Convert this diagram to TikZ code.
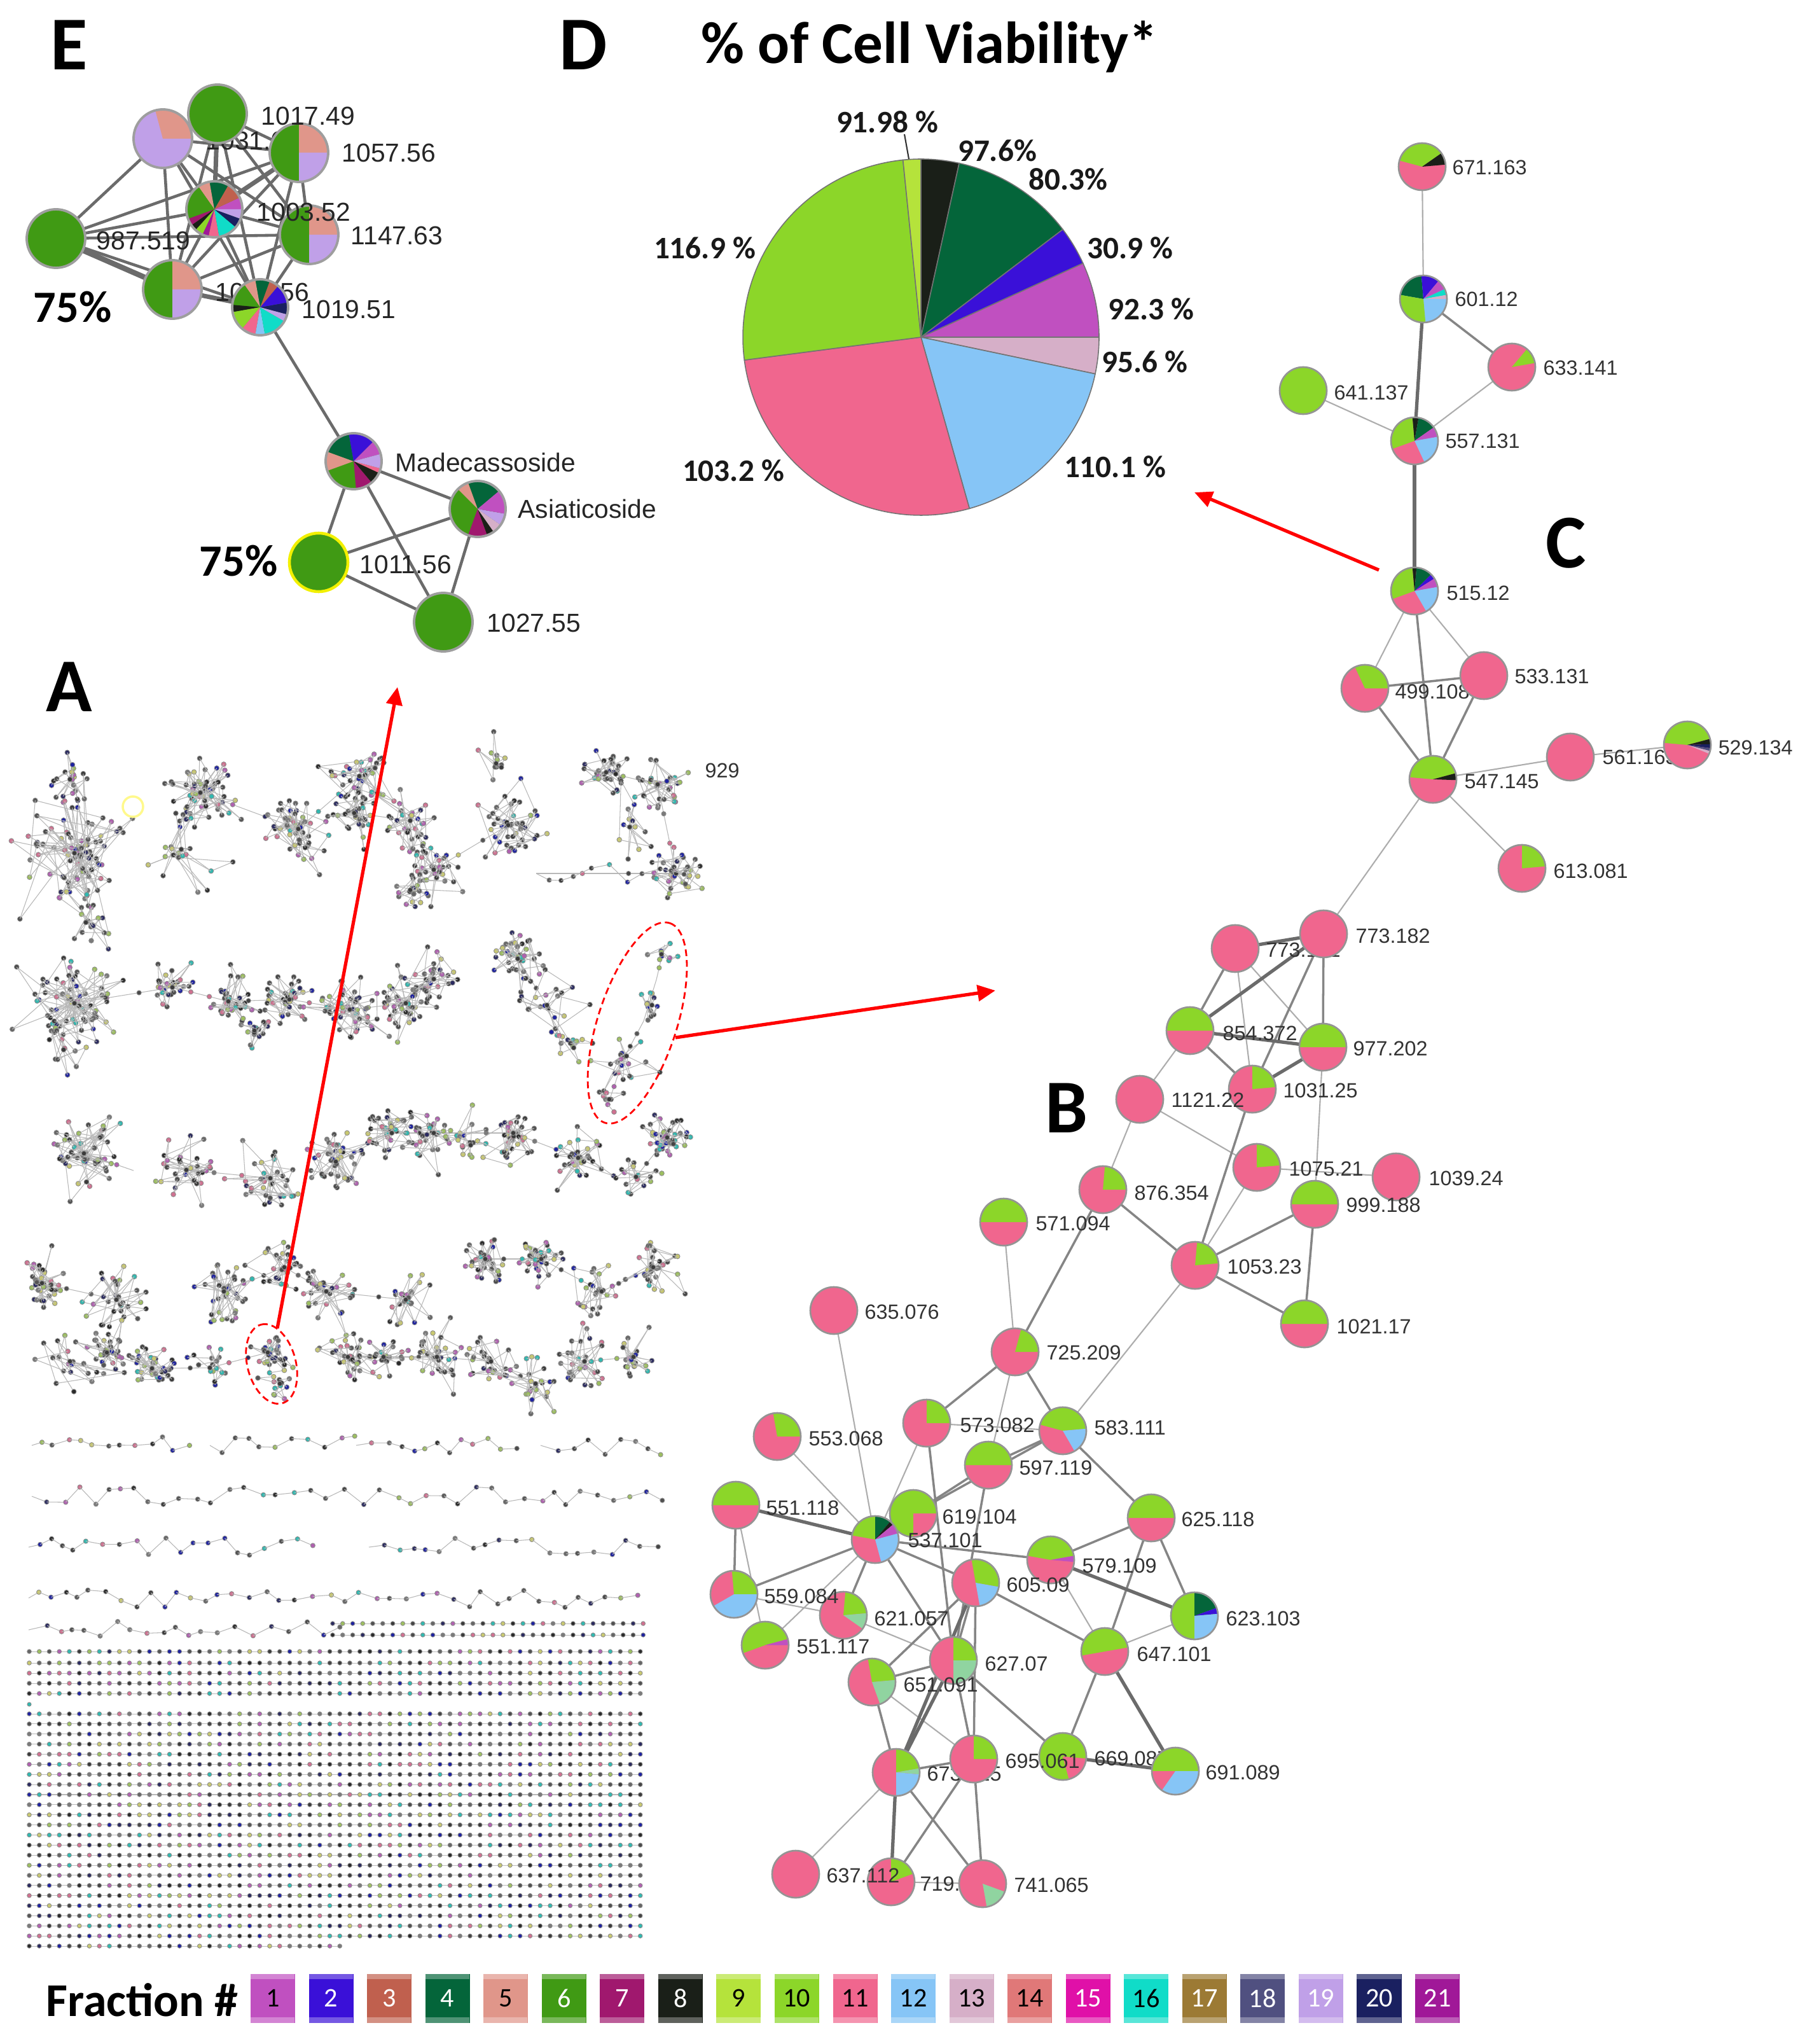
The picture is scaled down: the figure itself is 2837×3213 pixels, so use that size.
\documentclass[tikz,border=0pt]{standalone}
\usepackage{fontspec}
\setmainfont{Carlito}
\newfontfamily\labf{Liberation Sans}
\usetikzlibrary{arrows.meta,calc}
\pgfdeclarelayer{bgl}
\pgfdeclarelayer{edges}
\pgfdeclarelayer{hid}
\pgfsetlayers{bgl,edges,hid,main}
\definecolor{f1}{HTML}{C050C0}
\definecolor{f2}{HTML}{3A10D8}
\definecolor{f3}{HTML}{C0604E}
\definecolor{f4}{HTML}{04653A}
\definecolor{f5}{HTML}{E0968A}
\definecolor{f6}{HTML}{409A14}
\definecolor{f7}{HTML}{A0186E}
\definecolor{f8}{HTML}{1A1F18}
\definecolor{f9}{HTML}{B5E33B}
\definecolor{f10}{HTML}{8CD629}
\definecolor{f11}{HTML}{F0668E}
\definecolor{f12}{HTML}{86C5F6}
\definecolor{f13}{HTML}{D6AFC8}
\definecolor{f14}{HTML}{E07878}
\definecolor{f15}{HTML}{E010A8}
\definecolor{f16}{HTML}{10DCC8}
\definecolor{f17}{HTML}{9C7A34}
\definecolor{f18}{HTML}{505080}
\definecolor{f19}{HTML}{C0A0E8}
\definecolor{f20}{HTML}{1A2060}
\definecolor{f21}{HTML}{A01898}
\definecolor{mint}{HTML}{90D4A0}
\definecolor{eyel}{HTML}{F2F000}
\definecolor{Ac1}{HTML}{3A3A3A}
\definecolor{Ac2}{HTML}{4A4A4A}
\definecolor{Ac3}{HTML}{2A2A2A}
\definecolor{Ac4}{HTML}{555555}
\definecolor{Ac5}{HTML}{666666}
\definecolor{Ac6}{HTML}{2A2A60}
\definecolor{Ac7}{HTML}{1E22A0}
\definecolor{Ac8}{HTML}{B060B0}
\definecolor{Ac9}{HTML}{9DBF60}
\definecolor{Ac10}{HTML}{D07090}
\definecolor{Ac11}{HTML}{30B8B0}
\definecolor{Ac12}{HTML}{444444}
\definecolor{Ac13}{HTML}{505050}
\definecolor{Ac14}{HTML}{7A7A7A}
\definecolor{Ac15}{HTML}{C8C870}

\tikzset{
  nb/.style={draw=black!42, line width=0.75pt},
  lbl/.style={font=\labf\fontsize{9.2}{10}\selectfont, text=black!80, inner sep=0pt, anchor=west},
  lblE/.style={font=\labf\fontsize{11.6}{13}\selectfont, text=black!85, inner sep=0pt, anchor=west},
  panel/.style={font=\bfseries\fontsize{34}{38}\selectfont, inner sep=0pt, anchor=base},
  pct/.style={font=\bfseries\fontsize{14}{16}\selectfont, inner sep=0pt, text=black!90},
  big/.style={font=\bfseries\fontsize{20}{22}\selectfont, inner sep=0pt},
  et/.style={draw=black!32, line width=0.6pt},
  em/.style={draw=black!48, line width=1.0pt},
  ek/.style={draw=black!58, line width=1.5pt},
  eE/.style={draw=black!58, line width=1.3pt},
  aed/.style={draw=black!28, line width=0.3pt},
  adot/.style={draw=black!45, line width=0.25pt},
  redarrow/.style={draw=red, line width=1.5pt, -{Triangle[length=0.28cm,width=0.25cm]}},
  redell/.style={draw=red, line width=0.8pt, dash pattern=on 3pt off 1.8pt},
  legbox/.style={rectangle, minimum width=0.70cm, minimum height=0.77cm, inner sep=0pt, font=\fontsize{12}{12}\selectfont}
}

% pie-chart node: name, x, y, radius(px), base colour, slices (visual angles)
\newcommand\PN[6]{%
  \node[circle, inner sep=0pt, minimum size={0.02cm*#4}, fill=#5] (#1) at (#2,#3) {};
  \foreach \sa/\ea/\cl in {#6}{%
    \pgfmathsetmacro\psa{-(\sa)}\pgfmathsetmacro\pea{-(\ea)}%
    \fill[\cl] (#1.center) -- ++(\psa:#4) arc[start angle=\psa, end angle=\pea, radius=#4] -- cycle;}%
  \draw[nb] (#1.center) circle[radius=#4];}
% solid node
\newcommand\PS[5]{%
  \node[circle, inner sep=0pt, minimum size={0.02cm*#4}, fill=#5] (#1) at (#2,#3) {};
  \draw[nb] (#1.center) circle[radius=#4];}

% panel A helpers
\newcommand\Acl[4]{%
  \xdef\apx{#1}\xdef\apy{#2}%
  \pgfmathtruncatemacro\nn{#3*2}%
  \foreach \i in {1,...,\nn}{%
    \pgfmathsetmacro\ang{360*rnd}%
    \pgfmathsetmacro\rad{1.4*#4*(0.06+0.94*rnd)*(1+0.6*(rnd>0.88))}%
    \pgfmathsetmacro\qx{#1+\rad*cos(\ang)}%
    \pgfmathsetmacro\qy{#2+\rad*sin(\ang)}%
    \pgfmathrandominteger{\kk}{1}{15}%
    \pgfmathtruncatemacro\mm{mod(\i,3)}%
    \ifnum\mm=0 \draw[aed] (\apx,\apy) -- (\qx,\qy) -- (#1,#2);
    \else \draw[aed] (\apx,\apy) -- (\qx,\qy);\fi
    \filldraw[adot, fill=Ac\kk] (\qx,\qy) circle[radius=3.8];
    \xdef\apx{\qx}\xdef\apy{\qy}%
  }%
  \filldraw[adot, fill=Ac1] (#1,#2) circle[radius=3.8];}
\newcommand\Ach[4]{%
  \xdef\apx{#1}\xdef\apy{#2}%
  \foreach \i in {1,...,#3}{%
    \pgfmathsetmacro\qx{\apx+#4*(0.7+0.6*rnd)}%
    \pgfmathsetmacro\qy{#2+30*(rnd-0.5)}%
    \pgfmathrandominteger{\kk}{1}{15}%
    \draw[aed] (\apx,\apy) -- (\qx,\qy);
    \filldraw[adot, fill=Ac\kk] (\qx,\qy) circle[radius=3.6];
    \xdef\apx{\qx}\xdef\apy{\qy}}}
\newcommand\Alink[4]{% x1 y1 x2 y2 : chain of dots between two cluster centres
  \draw[aed] (#1,#2) -- (#3,#4);
  \foreach \t in {0.33,0.66}{%
    \pgfmathsetmacro\qx{#1+\t*(#3-#1)}\pgfmathsetmacro\qy{#2+\t*(#4-#2)}%
    \pgfmathrandominteger{\kk}{1}{15}%
    \filldraw[adot, fill=Ac\kk] (\qx,\qy) circle[radius=3.6];}}
\newcommand\Arow[3]{% y, x0, number of dots
  \draw[aed] (#2,#1) -- ++(15.75*#3,0);
  \foreach \c in {0,...,#3}{%
    \pgfmathsetmacro\xx{#2+15.75*\c}%
    \pgfmathrandominteger{\kk}{1}{15}%
    \filldraw[adot, fill=Ac\kk] (\xx,#1) circle[radius=3.3];}}

\begin{document}
\begin{tikzpicture}[x=0.01cm, y=-0.01cm]
\useasboundingbox (0,0) rectangle (2837,3213);
\begin{pgfonlayer}{bgl}
\fill[white] (0,0) rectangle (2837,3213);
\end{pgfonlayer}
\pgfmathsetseed{4242}

% ================= panel A =================
\foreach \xa/\ya/\xb/\yb in {117/1341/180/1300, 315/1246/469/1303, 469/1303/565/1220, 565/1220/557/1278, 557/1278/645/1290, 645/1290/682/1367, 682/1367/799/1297, 953/1214/1034/1233, 1034/1233/1063/1373, 843/1373/1063/1373,
  117/1577/271/1552, 271/1552/359/1574, 359/1574/455/1571, 455/1571/550/1587, 550/1587/638/1577, 638/1577/682/1539, 814/1507/902/1647,
  132/1813/210/1840, 293/1839/425/1852, 528/1826/616/1781, 616/1781/682/1781, 682/1781/807/1781, 807/1781/909/1820, 1049/1788/1000/1850,
  66/2017/183/2043, 352/2030/447/1992, 447/1992/513/2030, 513/2030/638/2043, 763/1979/851/1979, 851/1979/946/2030, 946/2030/1027/1992,
  168/2126/239/2151, 239/2151/330/2150, 330/2150/421/2126, 547/2133/603/2133, 603/2133/687/2133, 687/2133/772/2140, 772/2140/842/2175, 919/2140/996/2133,
  1045/1485/1032/1540, 1032/1540/1012/1605, 1012/1605/980/1665, 980/1665/958/1730}
  {\Alink{\xa}{\ya}{\xb}{\yb}}
\foreach \cxa/\cya/\cn/\cr in {117/1341/45/62, 110/1225/10/30, 135/1450/8/28, 315/1246/28/42, 285/1335/10/55, 469/1303/26/40, 565/1220/20/35, 557/1278/16/30, 645/1290/16/35, 682/1367/16/30, 645/1399/10/25, 799/1297/22/35, 780/1200/6/25, 953/1214/15/30, 1034/1233/15/30, 1063/1373/18/30, 990/1300/6/40,
  117/1577/36/50, 100/1650/6/30, 271/1552/15/25, 359/1574/18/30, 455/1571/18/30, 400/1620/8/25, 550/1587/26/35, 638/1577/22/30, 682/1539/15/25, 814/1507/20/30, 860/1580/10/40, 902/1647/6/25,
  132/1813/26/40, 293/1839/15/40, 425/1852/18/35, 528/1826/22/35, 616/1781/18/30, 682/1781/15/30, 740/1800/8/30, 807/1781/18/30, 909/1820/18/30, 1049/1788/22/30, 1000/1850/8/30,
  66/2017/20/30, 183/2043/15/35, 352/2030/18/35, 447/1992/15/30, 513/2030/15/35, 638/2043/12/35, 763/1979/18/25, 851/1979/18/25, 946/2030/12/30, 1027/1992/15/30,
  110/2140/10/40, 168/2126/18/25, 239/2151/18/30, 330/2150/8/30, 421/2126/15/25, 440/2175/6/20, 547/2133/15/30, 603/2133/12/25, 687/2133/15/30, 772/2140/12/30, 842/2175/12/35, 919/2140/15/30, 996/2133/12/25,
  1040/1500/4/22, 1025/1580/5/24, 985/1660/9/30, 958/1728/4/18}
  {\Acl{\cxa}{\cya}{\cn}{\cr}}
\Ach{843}{1373}{10}{22}
\Ach{50}{2272}{12}{22}
\Ach{330}{2272}{10}{22}
\Ach{560}{2272}{12}{22}
\Ach{850}{2272}{8}{22}
\Ach{50}{2352}{40}{24}
\Ach{45}{2432}{20}{23}
\Ach{580}{2432}{19}{23}
\Ach{45}{2512}{42}{23}
\Ach{45}{2562}{20}{23}
\Arow{2552}{523}{31}
\Arow{2570}{523}{31}
\foreach \yy in {2596,2614,2630,2646,2662} {\Arow{\yy}{46}{61}}
\foreach \k in {0,...,22} {\pgfmathsetmacro\yk{2694+15.87*\k}\Arow{\yk}{46}{61}}
\Arow{3059}{46}{31}
\filldraw[adot, fill=Ac11] (46,2679) circle[radius=3.1];
\draw[yellow!45, line width=1pt] (209,1268) circle[radius=16];
\node[lbl] (l929) at (1108,1211) {929};
\node[panel] (pA) at (109,1118) {A};

% ================= panel E =================
\tikzset{nb/.style={draw=black!38, line width=1.1pt}}
\PN{lav}{256}{218}{46}{f19}{0/105/f5}
\PS{n1017}{342}{179}{46}{f6}
\PN{n1057}{470}{240}{46}{f6}{0/90/f5, -90/0/f19}
\PS{n987}{88}{375}{46}{f6}
\PN{n1003}{337}{329}{44}{f6}{0/25/f1, 25/60/f3, 60/100/f4, 100/125/f5, 125/200/f6, 200/215/f7, 215/228/f8, 228/245/f10, 245/258/f21, 258/280/f11, 280/320/f16, 320/340/f20, 340/360/f19}
\PN{n1147}{486}{369}{46}{f6}{0/90/f5, -90/0/f19}
\PN{nX}{271}{455}{46}{f6}{0/90/f5, -90/0/f19}
\PN{n1019}{409}{483}{44}{f6}{-15/10/f20, 10/50/f2, 50/70/f3, 70/100/f4, 100/125/f5, 125/175/f6, 175/190/f8, 190/230/f10, 230/260/f11, 260/280/f12, 280/330/f16, 330/345/f19}
\PN{nMad}{556}{725}{44}{f6}{-25/-15/f11, -50/-25/f8, -85/-50/f7, 160/200/f5, 100/160/f4, 45/100/f2, 15/45/f1, -15/15/f19}
\PN{nAsi}{751}{800}{44}{f6}{40/110/f4, 110/135/f5, 250/290/f7, 290/305/f8, 305/325/f13, 325/350/f19, 350/400/f1}
\node[circle, inner sep=0pt, minimum size=0.92cm, fill=f6] (n1011) at (501,884) {};
\draw[eyel, line width=1.3pt] (n1011.center) circle[radius=46];
\PS{n1027}{697}{978}{46}{f6}
\begin{pgfonlayer}{edges}
\foreach \a/\b in {n987/lav, n987/n1003, n987/n1147, n987/n1019, n987/n1057, lav/n1003, lav/n1147, lav/nX, lav/n1019, lav/n1057, n1017/n1003, n1017/n1147, n1017/nX, n1017/n1019, n1017/n1057, n1057/n1003, n1057/nX, n1057/n1019, n1057/n1147, n1003/n1147, n1003/nX, n1003/n1019, n1147/nX, n1147/n1019, n1019/nMad, nMad/nAsi, nMad/n1011, nMad/n1027, nAsi/n1011, nAsi/n1027, n1011/n1027}
  {\draw[eE] (\a) -- (\b);}
\draw[eE, line width=2.4pt] (n987) -- (nX);
\draw[eE, line width=2pt] (nX) -- (n1019);
\draw[eE, line width=2pt] (n1017) -- (n1003);
\draw[eE, line width=2pt] (n1057) -- (n1003);
\end{pgfonlayer}
\begin{pgfonlayer}{hid}
\node[lblE] (llav) at (323,221) {1031.64};
\node[lblE] (lX) at (338,459) {1065.56};
\end{pgfonlayer}
\node[lblE] (l1017) at (410,182) {1017.49};
\node[lblE] (l1057) at (537,240) {1057.56};
\node[lblE] (l1003) at (403,333) {1003.52};
\node[lblE] (l1147) at (551,370) {1147.63};
\node[lblE] (l987) at (151,378) {987.519};
\node[lblE] (l1019) at (474,486) {1019.51};
\node[lblE] (lMad) at (621,727) {Madecassoside};
\node[lblE] (lAsi) at (814,800) {Asiaticoside};
\node[lblE] (l1011) at (565,887) {1011.56};
\node[lblE] (l1027) at (765,979) {1027.55};
\node[big] (p75a) at (114,483) {75\%};
\node[big] (p75b) at (375,882) {75\%};
\node[panel] (pE) at (109,110) {E};

% ================= panel D =================
\node[panel] (pD) at (917,110) {D};
\node[font=\bfseries\fontsize{26.5}{30}\selectfont, inner sep=0pt, anchor=base] (ttl) at (1462,100) {\% of Cell Viability*};
\node[circle, inner sep=0pt, minimum size=5.6cm] (pie) at (1448,530) {};
\foreach \sa/\ea/\cl in {77.6/90/f8, 37.2/77.6/f4, 24.5/37.2/f2, 0/24.5/f1, -11.9/0/f13, -74.2/-11.9/f12, 187.4/285.8/f11, 95.8/187.4/f10, 90/95.8/f9} {%
  \pgfmathsetmacro\psa{-(\sa)}\pgfmathsetmacro\pea{-(\ea)}%
  \filldraw[fill=\cl, draw=black!55, line width=0.45pt] (pie.center) -- ++(\psa:280) arc[start angle=\psa, end angle=\pea, radius=280] -- cycle;}
\coordinate (lead1) at (1422,211);
\coordinate (lead2) at (1429,250);
\draw[black!80, line width=0.6pt] (lead1) -- (lead2);
\node[pct] (q1) at (1395,192) {91.98 \%};
\node[pct] (q2) at (1568,237) {97.6\%};
\node[pct] (q3) at (1679,282) {80.3\%};
\node[pct] (q4) at (1777,390) {30.9 \%};
\node[pct] (q5) at (1810,486) {92.3 \%};
\node[pct] (q6) at (1800,569) {95.6 \%};
\node[pct] (q7) at (1753,734) {110.1 \%};
\node[pct] (q8) at (1153,740) {103.2 \%};
\node[pct] (q9) at (1108,390) {116.9 \%};

% ================= panels C and B =================
\tikzset{nb/.style={draw=black!42, line width=0.75pt}}
\PN{c671}{2236}{262}{37}{f11}{35/165/f10, 5/35/f8}
\PN{c601}{2238}{470}{37}{f12}{95/170/f4, 50/95/f2, 25/50/f1, 10/25/f16, 0/10/f13, 170/275/f10}
\PN{c633}{2377}{577}{37}{f11}{10/50/f10}
\PS{c641}{2049}{614}{37}{f10}
\PN{c557}{2224}{693}{37}{f11}{95/200/f10, 80/95/f8, 35/80/f4, 10/35/f1, -65/10/f12}
\PN{c515}{2224}{929}{37}{f11}{95/200/f10, 85/95/f8, 45/85/f4, 32/45/f2, 10/32/f1, -60/10/f12}
\PN{c499}{2146}{1082}{37}{f11}{0/115/f10}
\PS{c533}{2333}{1062}{37}{f11}
\PN{c547}{2253}{1225}{37}{f11}{15/175/f10, -2/15/f8}
\PS{c561}{2469}{1190}{37}{f11}
\PN{c529}{2653}{1171}{37}{f11}{15/175/f10, 2/15/f8, -8/2/f20, -15/-8/f18, -22/-15/f13}
\PN{c613}{2393}{1365}{37}{f11}{5/90/f10}

\PS{b773a}{2081}{1468}{37}{f11}
\PS{b773b}{1942}{1491}{37}{f11}
\PN{b854}{1871}{1620}{37}{f11}{0/180/f10}
\PN{b977}{2080}{1646}{37}{f11}{0/180/f10}
\PN{b1031}{1969}{1712}{37}{f11}{5/90/f10}
\PS{b1121}{1792}{1728}{37}{f11}
\PN{b1075}{1976}{1835}{37}{f11}{5/90/f10}
\PS{b1039}{2195}{1850}{37}{f11}
\PN{b999}{2067}{1893}{37}{f11}{0/180/f10}
\PN{b876}{1734}{1870}{37}{f11}{0/85/f10}
\PN{b571}{1578}{1921}{37}{f11}{0/180/f10}
\PN{b1053}{1879}{1989}{37}{f11}{5/85/f10}
\PN{b1021}{2051}{2081}{37}{f11}{0/180/f10}

\PS{b635}{1311}{2060}{37}{f11}
\PN{b725}{1596}{2125}{37}{f11}{0/75/f10}
\PN{b573}{1457}{2237}{37}{f11}{0/90/f10}
\PN{b583}{1671}{2249}{37}{f11}{5/165/f10, -60/5/f12}
\PN{b553}{1222}{2258}{37}{f11}{0/100/f10}
\PN{b597}{1554}{2303}{37}{f11}{0/180/f10}
\PN{b551a}{1157}{2366}{37}{f11}{0/180/f10}
\PN{b619}{1436}{2379}{37}{f10}{-90/0/f11}
\PN{b625}{1810}{2386}{37}{f11}{0/180/f10}
\PN{b537}{1376}{2420}{37}{f11}{90/170/f10, 50/90/f4, 40/50/f8, 15/40/f1, -75/15/f12}
\PN{b579}{1652}{2452}{37}{f11}{10/170/f10, -5/10/f1}
\PN{b605}{1534}{2488}{37}{f11}{-10/100/f10, -80/-10/f12}
\PN{b559}{1154}{2506}{37}{f11}{0/95/f10, -150/0/f12}
\PN{b623}{1878}{2540}{37}{f10}{20/90/f4, 5/20/f2, -90/5/f12}
\PN{b621}{1326}{2539}{37}{f11}{5/85/f10, -35/5/mint}
\PN{b551b}{1203}{2586}{37}{f11}{15/200/f10, 0/15/f1}
\PN{b647}{1737}{2596}{37}{f11}{10/190/f10}
\PN{b627}{1499}{2610}{37}{f11}{0/90/f10, -90/0/mint}
\PN{b651}{1371}{2644}{37}{f11}{5/100/f10, -70/5/mint}
\PN{b67x}{1409}{2786}{37}{f11}{10/90/f10, -5/10/mint, -90/-5/f12}
\PN{b695}{1531}{2765}{37}{f11}{0/90/f10}
\PN{b669}{1671}{2761}{37}{f10}{-75/-5/f11}
\PN{b691}{1848}{2784}{37}{f10}{180/235/f11, 235/360/f12}
\PS{b637}{1251}{2946}{37}{f11}
\PN{b719}{1401}{2958}{37}{f11}{20/90/f10}
\PN{b741}{1545}{2961}{37}{f11}{-80/-20/mint}

\begin{pgfonlayer}{edges}
\foreach \a/\b in {c671/c601, c633/c557, c641/c557, c515/c499, c515/c533, c547/c561, c561/c529, c547/c613, c547/b773a,
  b773b/b1031, b773b/b977, b854/b1121, b1121/b876, b1121/b1075, b977/b999, b1075/b1039, b1075/b1053, b571/b725, b1053/b583,
  b635/b537, b725/b597, b573/b583, b553/b537, b551a/b551b, b559/b621, b537/b551b, b579/b647, b623/b647, b621/b627, b651/b695, b67x/b637, b719/b741, b573/b537}
  {\draw[et] (\a) -- (\b);}
\foreach \a/\b in {c601/c633, c515/c547, c499/c533, c499/c547, c533/c547,
  b773a/b977, b773a/b1031, b773b/b854, b854/b1031, b1031/b1053, b999/b1053, b999/b1021, b1053/b1021, b876/b1053, b876/b725,
  b725/b573, b725/b583, b583/b597, b583/b619, b583/b625, b551a/b559, b537/b559, b537/b621, b537/b605, b537/b579, b537/b627, b597/b619, b597/b627, b605/b647, b605/b627, b605/b651, b605/b695, b625/b579, b625/b623, b625/b647, b647/b669, b627/b669, b627/b651, b627/b695, b651/b67x, b67x/b695, b67x/b741, b695/b719, b695/b741, b573/b627}
  {\draw[em] (\a) -- (\b);}
\foreach \a/\b in {c601/c557, c557/c515, b773a/b773b, b773a/b854, b854/b977, b977/b1031,
  b551a/b537, b579/b623, b647/b691, b669/b691, b627/b67x, b605/b67x, b67x/b719}
  {\draw[ek] (\a) -- (\b);}
\end{pgfonlayer}

\begin{pgfonlayer}{hid}
\node[lbl] (l499) at (2193,1087) {499.108};
\node[lbl] (l561) at (2519,1190) {561.163};
\node[lbl] (l773b) at (1990,1493) {773.181};
\node[lbl] (l669) at (1720,2764) {669.087};
\node[lbl] (l67x) at (1457,2788) {673.125};
\node[lbl] (l719) at (1446,2961) {719.066};
\end{pgfonlayer}
\node[lbl] (l671) at (2283,263) {671.163};
\node[lbl] (l601) at (2287,470) {601.12};
\node[lbl] (l633) at (2426,578) {633.141};
\node[lbl] (l641) at (2097,617) {641.137};
\node[lbl] (l557) at (2272,693) {557.131};
\node[lbl] (l515) at (2274,932) {515.12};
\node[lbl] (l533) at (2381,1063) {533.131};
\node[lbl] (l547) at (2302,1229) {547.145};
\node[lbl] (l529) at (2701,1175) {529.134};
\node[lbl] (l613) at (2442,1369) {613.081};
\node[lbl] (l773a) at (2131,1471) {773.182};
\node[lbl] (l854) at (1922,1624) {854.372};
\node[lbl] (l977) at (2127,1648) {977.202};
\node[lbl] (l1031) at (2017,1714) {1031.25};
\node[lbl] (l1121) at (1841,1729) {1121.22};
\node[lbl] (l1075) at (2026,1837) {1075.21};
\node[lbl] (l1039) at (2246,1852) {1039.24};
\node[lbl] (l999) at (2116,1894) {999.188};
\node[lbl] (l876) at (1783,1875) {876.354};
\node[lbl] (l571) at (1628,1923) {571.094};
\node[lbl] (l1053) at (1929,1991) {1053.23};
\node[lbl] (l1021) at (2101,2085) {1021.17};
\node[lbl] (l635) at (1359,2062) {635.076};
\node[lbl] (l725) at (1645,2126) {725.209};
\node[lbl] (l573) at (1509,2240) {573.082};
\node[lbl] (l583) at (1720,2244) {583.111};
\node[lbl] (l553) at (1271,2261) {553.068};
\node[lbl] (l597) at (1602,2307) {597.119};
\node[lbl] (l551a) at (1204,2370) {551.118};
\node[lbl] (l619) at (1481,2384) {619.104};
\node[lbl] (l625) at (1857,2388) {625.118};
\node[lbl] (l537) at (1427,2421) {537.101};
\node[lbl] (l579) at (1701,2461) {579.109};
\node[lbl] (l605) at (1582,2491) {605.09};
\node[lbl] (l559) at (1201,2509) {559.084};
\node[lbl] (l623) at (1927,2544) {623.103};
\node[lbl] (l621) at (1374,2544) {621.057};
\node[lbl] (l551b) at (1252,2588) {551.117};
\node[lbl] (l647) at (1787,2600) {647.101};
\node[lbl] (l627) at (1548,2615) {627.07};
\node[lbl] (l651) at (1420,2648) {651.091};
\node[lbl] (l695) at (1580,2768) {695.061};
\node[lbl] (l691) at (1895,2786) {691.089};
\node[lbl] (l637) at (1299,2948) {637.112};
\node[lbl] (l741) at (1594,2963) {741.065};
\node[panel] (pC) at (2462,892) {C};
\node[panel] (pB) at (1677,1780) {B};

% ================= red ellipses and arrows =================
\coordinate (ell1) at (1002,1608);
\coordinate (ell2) at (427,2144);
\draw[redell, rotate around={72:(ell1)}] (ell1) ellipse [x radius=165, y radius=62];
\draw[redell, rotate around={105:(ell2)}] (ell2) ellipse [x radius=64, y radius=38];
\coordinate (a1s) at (436,2088);
\coordinate (a1e) at (625,1080);
\coordinate (a2s) at (1062,1631);
\coordinate (a2e) at (1565,1557);
\coordinate (a3s) at (2168,896);
\coordinate (a3e) at (1878,774);
\draw[redarrow] (a1s) -- (a1e);
\draw[redarrow] (a2s) -- (a2e);
\draw[redarrow] (a3s) -- (a3e);

% ================= legend =================
\node[font=\bfseries\fontsize{21}{24}\selectfont, anchor=west, inner sep=0pt] (frac) at (72,3144) {Fraction \#};
\foreach \i/\cl/\tc in {1/f1/black, 2/f2/white, 3/f3/white, 4/f4/white, 5/f5/black, 6/f6/white, 7/f7/white, 8/f8/white, 9/f9/black, 10/f10/black, 11/f11/black, 12/f12/black, 13/f13/black, 14/f14/black, 15/f15/white, 16/f16/black, 17/f17/white, 18/f18/white, 19/f19/white, 20/f20/white, 21/f21/white} {%
  \pgfmathsetmacro\lx{429+(\i-1)*91.55}%
  \node[legbox, fill=\cl, text=\tc] (lg\i) at (\lx,3141) {\i};
  \fill[white, opacity=0.3] (lg\i.north west) rectangle ++(70,9);
  \fill[white, opacity=0.3] (lg\i.south west) rectangle ++(70,-9);
}
\end{tikzpicture}
\end{document}
